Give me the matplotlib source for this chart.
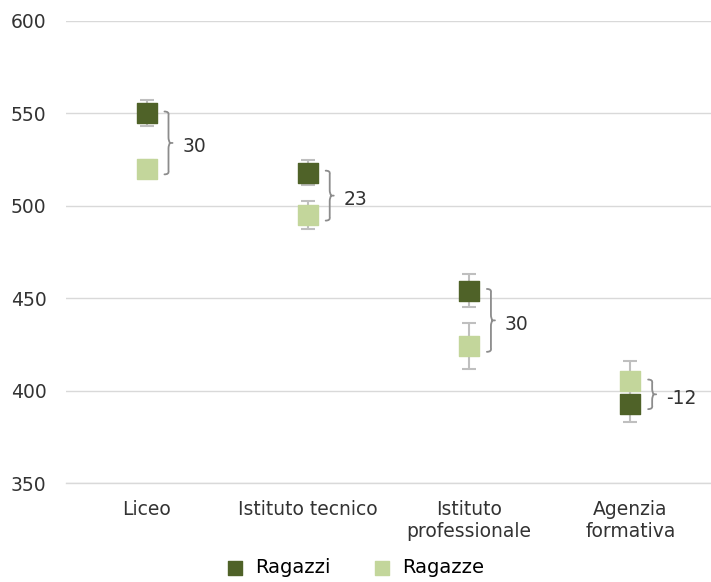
import matplotlib.pyplot as plt
from matplotlib.path import Path
from matplotlib.patches import PathPatch

# Data
categories = ['Liceo', 'Istituto tecnico', 'Istituto\nprofessionale', 'Agenzia\nformativa']
ragazzi = [550, 518, 454, 393]
ragazzi_err = [7, 7, 9, 10]
ragazze = [520, 495, 424, 405]
ragazze_err = [5, 7.5, 12.5, 11]
differenze = ['30', '23', '30', '-12']

dark = '#4F6228'
light = '#C3D69B'
grey = '#BFBFBF'

fig = plt.figure(figsize=(7.11, 5.82), dpi=100)
ax = fig.add_axes([0.093, 0.170, 0.907, 0.794])

x = list(range(len(categories)))

ax.errorbar(x, ragazzi, yerr=ragazzi_err, fmt='none', ecolor=grey, elinewidth=1.5,
            capsize=5, capthick=1.5, zorder=2)
ax.errorbar(x, ragazze, yerr=ragazze_err, fmt='none', ecolor=grey, elinewidth=1.5,
            capsize=5, capthick=1.5, zorder=2)
ax.scatter(x, ragazzi, marker='s', s=190, color=dark, zorder=3, label='Ragazzi')
ax.scatter(x, ragazze, marker='s', s=190, color=light, zorder=3, label='Ragazze')


def brace(ax, xc, y1, y2, w=0.05):
    lo, hi = min(y1, y2), max(y1, y2)
    mid = (lo + hi) / 2
    verts = [(xc, hi), (xc + w * 0.6, hi), (xc + w * 0.5, hi - 2), (xc + w * 0.5, mid + 3),
             (xc + w * 0.5, mid + 1), (xc + w * 0.7, mid), (xc + w, mid),
             (xc + w * 0.7, mid), (xc + w * 0.5, mid - 1), (xc + w * 0.5, mid - 3),
             (xc + w * 0.5, lo + 2), (xc + w * 0.6, lo), (xc, lo)]
    codes = [Path.MOVETO, Path.CURVE3, Path.CURVE3, Path.LINETO,
             Path.CURVE3, Path.CURVE3, Path.LINETO,
             Path.MOVETO, Path.CURVE3, Path.CURVE3,
             Path.LINETO, Path.CURVE3, Path.CURVE3]
    ax.add_patch(PathPatch(Path(verts, codes), fill=False, edgecolor='#8C8C8C', lw=1.3,
                           capstyle='round'))


for i in x:
    hi = max(ragazzi[i], ragazze[i])
    lo = min(ragazzi[i], ragazze[i])
    brace(ax, i + 0.11, lo - 3, hi + 1)
    ax.text(i + 0.22, (lo + hi) / 2 - 3, differenze[i], fontsize=13.5, va='center', ha='left',
            color='#333333')

ax.set_ylim(350, 600)
ax.set_yticks([350, 400, 450, 500, 550, 600])
ax.axhline(350, color='#D9D9D9', lw=1, clip_on=False, zorder=0)
ax.set_xlim(-0.5, 3.5)
ax.set_xticks(x)
ax.set_xticklabels(categories, fontsize=13.5, color='#333333')
ax.tick_params(axis='y', labelsize=13.5, labelcolor='#333333', length=0, pad=14)
ax.tick_params(axis='x', length=0, pad=12)
ax.grid(axis='y', color='#D9D9D9', lw=1)
ax.set_axisbelow(True)
for s in ax.spines.values():
    s.set_visible(False)

ax.legend(loc='upper center', bbox_to_anchor=(0.44, -0.125), ncol=2, frameon=False,
          fontsize=14, markerscale=0.7, handletextpad=0.05, columnspacing=1.6)

fig.savefig('out.png', dpi=100)
